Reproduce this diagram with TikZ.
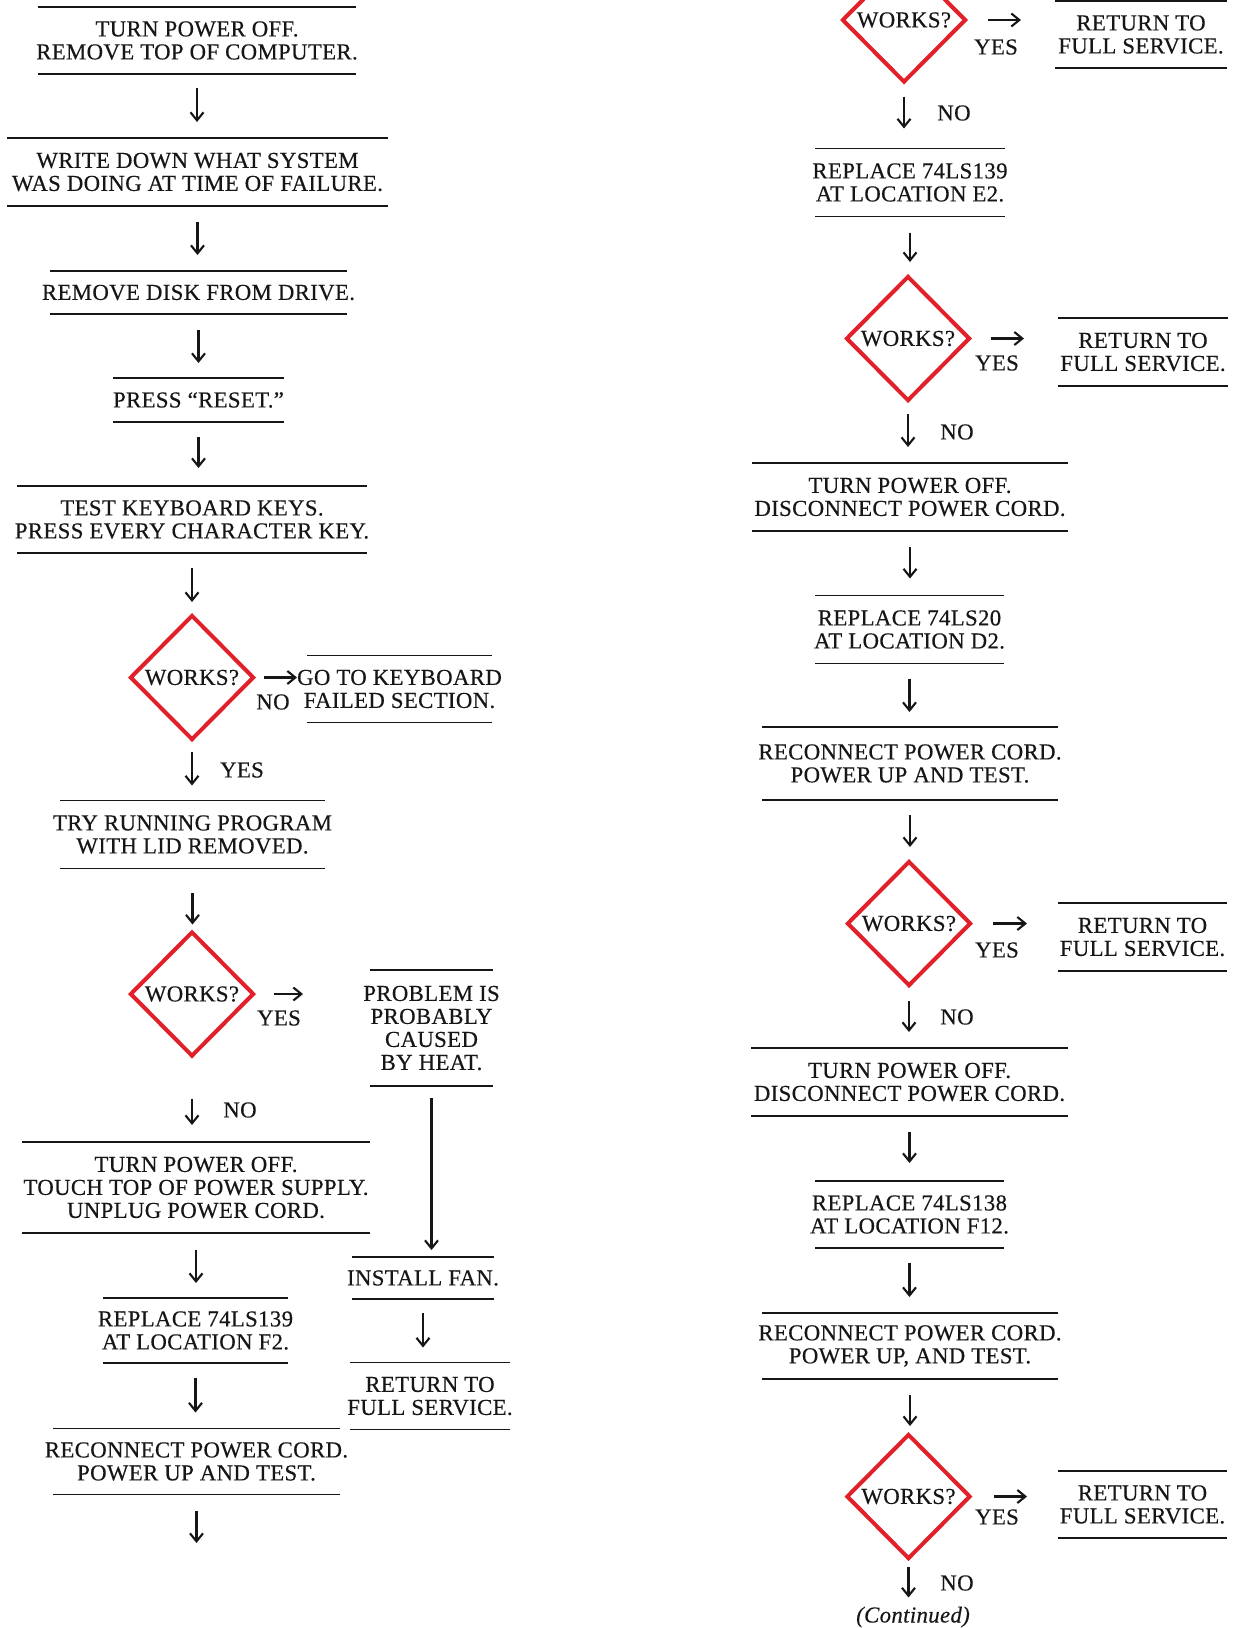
\documentclass[tikz,border=0pt]{standalone}
\usepackage{fontspec}
\setmainfont{Liberation Serif}[LetterSpace=1.5,FakeBold=0.35]
\usetikzlibrary{arrows.meta,shapes.geometric}
\definecolor{dred}{RGB}{226,32,42}
\definecolor{ink}{RGB}{22,22,22}
\tikzset{
  txt/.style={font=\fontsize{22.8}{23}\selectfont, align=center, inner sep=0pt, text=ink},
  rule/.style={line width=1.5pt, draw=ink},
  arr/.style={line width=2.1pt, draw=ink, -{Straight Barb[length=8pt,width=13pt,line width=2.1pt]}},
  decision/.style={diamond, draw=dred, line width=4pt, minimum width=124pt, minimum height=125pt,
     inner sep=0pt, aspect=1, font=\fontsize{22.8}{23}\selectfont, text=ink},
  lbl/.style={font=\fontsize{22.8}{23}\selectfont, inner sep=0pt, text=ink}
}
% name, x, y, rule width, rule gap, text
\newcommand\rulebox[6]{%
  \node[txt] (#1) at (#2,#3) {#6};
  \coordinate (#1-n) at (#2,#3-#5/2);
  \coordinate (#1-s) at (#2,#3+#5/2);
  \coordinate (#1-w) at (#2-#4/2,#3);
  \coordinate (#1-e) at (#2+#4/2,#3);
  \draw[rule] (#2-#4/2,#3-#5/2) -- (#2+#4/2,#3-#5/2)
              (#2-#4/2,#3+#5/2) -- (#2+#4/2,#3+#5/2);
}
\begin{document}
\begin{tikzpicture}[x=1pt,y=-1pt]
\useasboundingbox (0,0) rectangle (1240,1628);
\fill[white] (0,0) rectangle (1240,1628);
\clip (0,0) rectangle (1240,1628);

% ---------------- left column ----------------
\rulebox{b1}{197}{40.5}{318}{67}{TURN POWER OFF.\\REMOVE TOP OF COMPUTER.}
\rulebox{b2}{197.5}{172}{381}{68}{WRITE DOWN WHAT SYSTEM\\WAS DOING AT TIME OF FAILURE.}
\rulebox{b3}{198.5}{292.5}{297}{43}{REMOVE DISK FROM DRIVE.}
\rulebox{b4}{198.5}{400}{171}{44}{PRESS “RESET.”}
\rulebox{b5}{192}{519.5}{350}{67}{TEST KEYBOARD KEYS.\\PRESS EVERY CHARACTER KEY.}
\node[decision] (d1) at (192,677.5) {WORKS?};
\rulebox{b6}{399.5}{689}{185}{67}{GO TO KEYBOARD\\FAILED SECTION.}
\rulebox{b7}{192.5}{834.5}{265}{68}{TRY RUNNING PROGRAM\\WITH LID REMOVED.}
\node[decision] (d2) at (192,994) {WORKS?};
\rulebox{b8}{431.5}{1028}{123}{116}{PROBLEM IS\\PROBABLY\\CAUSED\\BY HEAT.}
\rulebox{b9}{196}{1187.5}{348}{91}{TURN POWER OFF.\\TOUCH TOP OF POWER SUPPLY.\\UNPLUG POWER CORD.}
\rulebox{b10}{423}{1278}{142}{42}{INSTALL FAN.}
\rulebox{b11}{430}{1396}{160}{67}{RETURN TO\\FULL SERVICE.}
\rulebox{b12}{195.5}{1330.5}{185}{65}{REPLACE 74LS139\\AT LOCATION F2.}
\rulebox{b13}{196.5}{1461.5}{287}{66}{RECONNECT POWER CORD.\\POWER UP AND TEST.}
\coordinate (lend) at (196.5,1543);

\draw[arr, shorten <=14pt, shorten >=16pt] (b1-s) -- (b1-s |- b2-n);
\draw[arr, shorten <=16pt, shorten >=16pt] (b2-s) -- (b2-s |- b3-n);
\draw[arr, shorten <=16pt, shorten >=15pt] (b3-s) -- (b3-s |- b4-n);
\draw[arr, shorten <=15pt, shorten >=18pt] (b4-s) -- (b4-s |- b5-n);
\draw[arr, shorten <=15pt, shorten >=11pt] (b5-s) -- (b5-s |- d1.north);
\draw[arr, shorten <=10pt, shorten >=15pt] (d1.south) -- (d1.south |- b7-n);
\draw[arr, shorten <=8pt, shorten >=10pt] (d1.east) -- (d1.east -| b6-w);
\node[lbl] (no1) at (273,702) {NO};
\node[lbl] (yes1) at (242,770) {YES};
\draw[arr, shorten <=24pt, shorten >=5pt] (b7-s) -- (b7-s |- d2.north);
\draw[arr, shorten <=18pt, shorten >=67pt] (d2.east) -- (d2.east -| b8-w);
\node[lbl] (yes2) at (279,1018) {YES};
\draw[arr, shorten <=40pt, shorten >=17pt] (d2.south) -- (d2.south |- b9-n);
\node[lbl] (no2) at (240,1110) {NO};
\draw[arr, shorten <=12pt, shorten >=7pt] (b8-s) -- (b8-s |- b10-n);
\draw[arr, shorten <=17pt, shorten >=15pt] (b9-s) -- (b9-s |- b12-n);
\draw[arr, shorten <=14pt, shorten >=15pt] (b10-s) -- (b10-s |- b11-n);
\draw[arr, shorten <=15pt, shorten >=16pt] (b12-s) -- (b12-s |- b13-n);
\draw[arr, shorten <=16pt] (b13-s) -- (lend);

% ---------------- right column ----------------
\node[decision] (dA) at (904,20) {WORKS?};
\rulebox{rA}{1141}{34.5}{172}{67}{RETURN TO\\FULL SERVICE.}
\rulebox{rE2}{910}{182.5}{190}{68}{REPLACE 74LS139\\AT LOCATION E2.}
\node[decision] (dB) at (908,338.5) {WORKS?};
\rulebox{rB}{1143}{352}{170}{68}{RETURN TO\\FULL SERVICE.}
\rulebox{rP1}{910}{497}{316}{68}{TURN POWER OFF.\\DISCONNECT POWER CORD.}
\rulebox{rD2}{909.5}{629.5}{189}{68}{REPLACE 74LS20\\AT LOCATION D2.}
\rulebox{rR1}{910}{763.5}{296}{73}{\fontsize{22.8}{28}\selectfont RECONNECT POWER CORD.\\POWER UP AND TEST.}
\node[decision] (dC) at (909,923.5) {WORKS?};
\rulebox{rC}{1142.5}{937}{169}{68}{RETURN TO\\FULL SERVICE.}
\rulebox{rP2}{909.5}{1082}{317}{68}{TURN POWER OFF.\\DISCONNECT POWER CORD.}
\rulebox{rF12}{909.5}{1214.5}{189}{67}{REPLACE 74LS138\\AT LOCATION F12.}
\rulebox{rR2}{910}{1346}{296}{66}{\fontsize{22.8}{25}\selectfont RECONNECT POWER CORD.\\POWER UP, AND TEST.}
\node[decision] (dD) at (908.5,1496.5) {WORKS?};
\rulebox{rD}{1142.5}{1504.5}{169}{67}{RETURN TO\\FULL SERVICE.}
\node[lbl, font=\fontsize{22.8}{23}\selectfont\itshape] (cont) at (913,1617) {(Continued)};

\draw[arr, shorten <=20pt, shorten >=34pt] (dA.east) -- (dA.east -| rA-w);
\node[lbl] (yesA) at (996,47) {YES};
\draw[arr, shorten <=12pt, shorten >=20pt] (dA.south) -- (dA.south |- rE2-n);
\node[lbl] (noA) at (954,113) {NO};
\draw[arr, shorten <=16pt, shorten >=12pt] (rE2-s) -- (rE2-s |- dB.north);
\draw[arr, shorten <=19pt, shorten >=34pt] (dB.east) -- (dB.east -| rB-w);
\node[lbl] (yesB) at (997,363) {YES};
\draw[arr, shorten <=11pt, shorten >=16pt] (dB.south) -- (dB.south |- rP1-n);
\node[lbl] (noB) at (957,432) {NO};
\draw[arr, shorten <=16pt, shorten >=17pt] (rP1-s) -- (rP1-s |- rD2-n);
\draw[arr, shorten <=15pt, shorten >=15pt] (rD2-s) -- (rD2-s |- rR1-n);
\draw[arr, shorten <=15pt, shorten >=12pt] (rR1-s) -- (rR1-s |- dC.north);
\draw[arr, shorten <=20pt, shorten >=31pt] (dC.east) -- (dC.east -| rC-w);
\node[lbl] (yesC) at (997,950) {YES};
\draw[arr, shorten <=13pt, shorten >=16pt] (dC.south) -- (dC.south |- rP2-n);
\node[lbl] (noC) at (957,1017) {NO};
\draw[arr, shorten <=16pt, shorten >=18pt] (rP2-s) -- (rP2-s |- rF12-n);
\draw[arr, shorten <=15pt, shorten >=16pt] (rF12-s) -- (rF12-s |- rR2-n);
\draw[arr, shorten <=16pt, shorten >=6pt] (rR2-s) -- (rR2-s |- dD.north);
\draw[arr, shorten <=21pt, shorten >=31pt] (dD.east) -- (dD.east -| rD-w);
\node[lbl] (yesD) at (997,1517) {YES};
\draw[arr, shorten <=6pt, shorten >=9pt] (dD.south) -- (dD.south |- cont.north);
\node[lbl] (noD) at (957,1583) {NO};
\end{tikzpicture}
\end{document}
